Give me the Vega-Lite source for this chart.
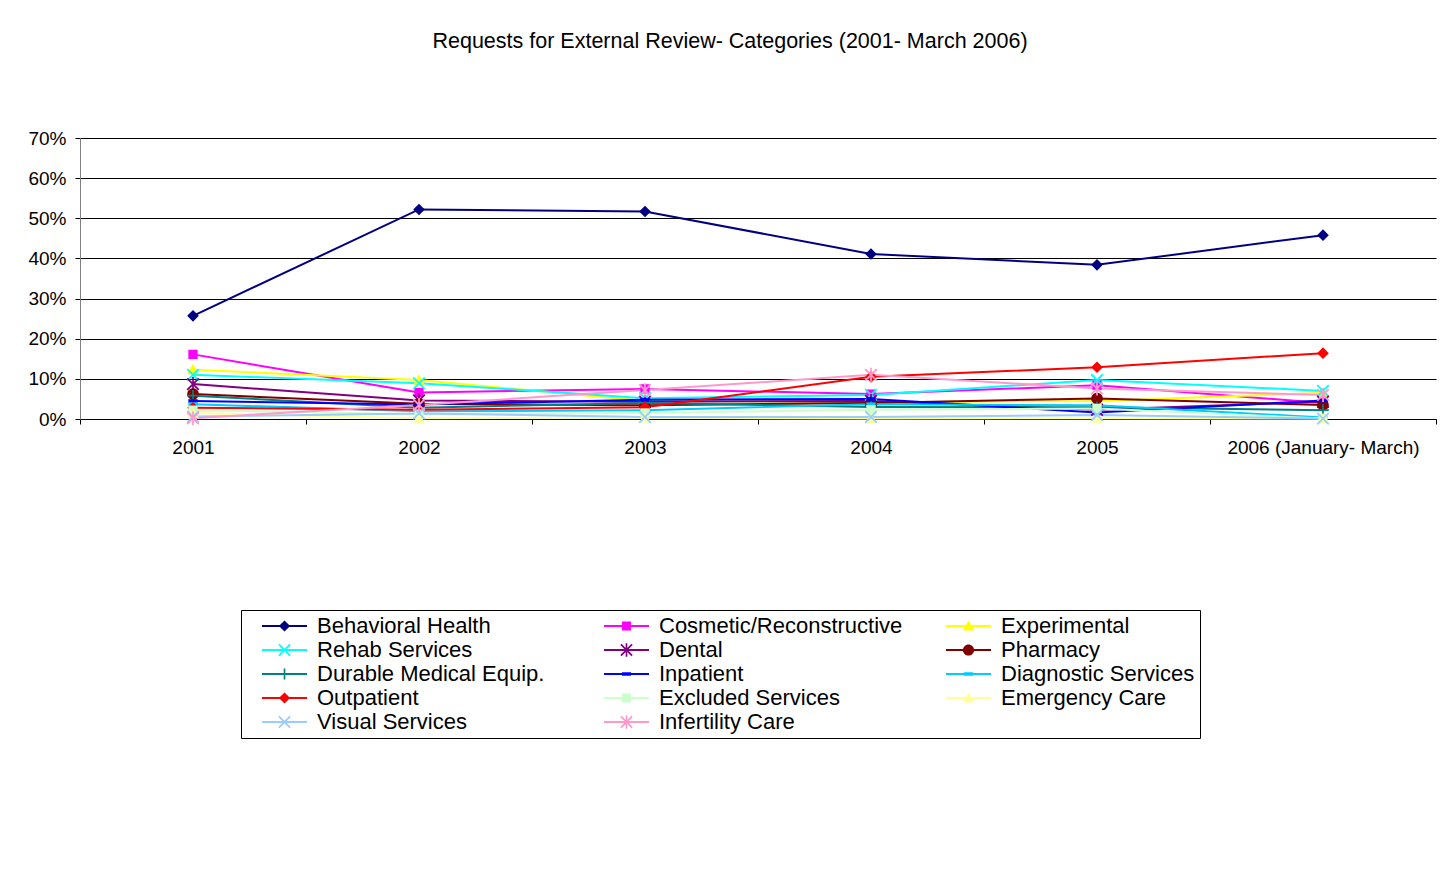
{
  "$schema": "https://vega.github.io/schema/vega-lite/v6.json",
  "width": 1356,
  "height": 281,
  "autosize": {"type": "none"},
  "padding": {"left": 80, "top": 138, "right": 19, "bottom": 452},
  "background": "#ffffff",
  "title": {
    "text": "Requests for External Review- Categories (2001- March 2006)",
    "font": "Liberation Sans",
    "fontSize": 21.5,
    "fontWeight": "normal",
    "color": "#000000",
    "anchor": "middle",
    "frame": "group",
    "dx": -28,
    "offset": 77
  },
  "config": {
    "view": {"stroke": null},
    "font": "Liberation Sans"
  },
  "data": {
    "values": [
      {"year": "2001", "category": "Behavioral Health", "share": 0.257},
      {"year": "2002", "category": "Behavioral Health", "share": 0.522},
      {"year": "2003", "category": "Behavioral Health", "share": 0.517},
      {"year": "2004", "category": "Behavioral Health", "share": 0.411},
      {"year": "2005", "category": "Behavioral Health", "share": 0.384},
      {"year": "2006 (January- March)", "category": "Behavioral Health", "share": 0.458},
      {"year": "2001", "category": "Cosmetic/Reconstructive", "share": 0.161},
      {"year": "2002", "category": "Cosmetic/Reconstructive", "share": 0.066},
      {"year": "2003", "category": "Cosmetic/Reconstructive", "share": 0.075},
      {"year": "2004", "category": "Cosmetic/Reconstructive", "share": 0.062},
      {"year": "2005", "category": "Cosmetic/Reconstructive", "share": 0.084},
      {"year": "2006 (January- March)", "category": "Cosmetic/Reconstructive", "share": 0.040},
      {"year": "2001", "category": "Experimental", "share": 0.123},
      {"year": "2002", "category": "Experimental", "share": 0.097},
      {"year": "2003", "category": "Experimental", "share": 0.045},
      {"year": "2004", "category": "Experimental", "share": 0.042},
      {"year": "2005", "category": "Experimental", "share": 0.045},
      {"year": "2006 (January- March)", "category": "Experimental", "share": 0.065},
      {"year": "2001", "category": "Rehab Services", "share": 0.110},
      {"year": "2002", "category": "Rehab Services", "share": 0.089},
      {"year": "2003", "category": "Rehab Services", "share": 0.052},
      {"year": "2004", "category": "Rehab Services", "share": 0.060},
      {"year": "2005", "category": "Rehab Services", "share": 0.097},
      {"year": "2006 (January- March)", "category": "Rehab Services", "share": 0.070},
      {"year": "2001", "category": "Dental", "share": 0.087},
      {"year": "2002", "category": "Dental", "share": 0.046},
      {"year": "2003", "category": "Dental", "share": 0.043},
      {"year": "2004", "category": "Dental", "share": 0.045},
      {"year": "2005", "category": "Dental", "share": 0.023},
      {"year": "2006 (January- March)", "category": "Dental", "share": 0.043},
      {"year": "2001", "category": "Pharmacy", "share": 0.062},
      {"year": "2002", "category": "Pharmacy", "share": 0.038},
      {"year": "2003", "category": "Pharmacy", "share": 0.034},
      {"year": "2004", "category": "Pharmacy", "share": 0.040},
      {"year": "2005", "category": "Pharmacy", "share": 0.051},
      {"year": "2006 (January- March)", "category": "Pharmacy", "share": 0.035},
      {"year": "2001", "category": "Durable Medical Equip.", "share": 0.058},
      {"year": "2002", "category": "Durable Medical Equip.", "share": 0.028},
      {"year": "2003", "category": "Durable Medical Equip.", "share": 0.040},
      {"year": "2004", "category": "Durable Medical Equip.", "share": 0.030},
      {"year": "2005", "category": "Durable Medical Equip.", "share": 0.029},
      {"year": "2006 (January- March)", "category": "Durable Medical Equip.", "share": 0.022},
      {"year": "2001", "category": "Inpatient", "share": 0.045},
      {"year": "2002", "category": "Inpatient", "share": 0.036},
      {"year": "2003", "category": "Inpatient", "share": 0.048},
      {"year": "2004", "category": "Inpatient", "share": 0.050},
      {"year": "2005", "category": "Inpatient", "share": 0.016},
      {"year": "2006 (January- March)", "category": "Inpatient", "share": 0.046},
      {"year": "2001", "category": "Diagnostic Services", "share": 0.037},
      {"year": "2002", "category": "Diagnostic Services", "share": 0.019},
      {"year": "2003", "category": "Diagnostic Services", "share": 0.022},
      {"year": "2004", "category": "Diagnostic Services", "share": 0.037},
      {"year": "2005", "category": "Diagnostic Services", "share": 0.034},
      {"year": "2006 (January- March)", "category": "Diagnostic Services", "share": 0.004},
      {"year": "2001", "category": "Outpatient", "share": 0.028},
      {"year": "2002", "category": "Outpatient", "share": 0.023},
      {"year": "2003", "category": "Outpatient", "share": 0.029},
      {"year": "2004", "category": "Outpatient", "share": 0.105},
      {"year": "2005", "category": "Outpatient", "share": 0.129},
      {"year": "2006 (January- March)", "category": "Outpatient", "share": 0.164},
      {"year": "2001", "category": "Excluded Services", "share": 0.022},
      {"year": "2002", "category": "Excluded Services", "share": 0.012},
      {"year": "2003", "category": "Excluded Services", "share": 0.015},
      {"year": "2004", "category": "Excluded Services", "share": 0.023},
      {"year": "2005", "category": "Excluded Services", "share": 0.026},
      {"year": "2006 (January- March)", "category": "Excluded Services", "share": 0.001},
      {"year": "2001", "category": "Emergency Care", "share": 0.015},
      {"year": "2002", "category": "Emergency Care", "share": 0.002},
      {"year": "2003", "category": "Emergency Care", "share": 0.003},
      {"year": "2004", "category": "Emergency Care", "share": 0.001},
      {"year": "2005", "category": "Emergency Care", "share": 0.002},
      {"year": "2006 (January- March)", "category": "Emergency Care", "share": 0.001},
      {"year": "2001", "category": "Visual Services", "share": 0.006},
      {"year": "2002", "category": "Visual Services", "share": 0.014},
      {"year": "2003", "category": "Visual Services", "share": 0.005},
      {"year": "2004", "category": "Visual Services", "share": 0.005},
      {"year": "2005", "category": "Visual Services", "share": 0.010},
      {"year": "2006 (January- March)", "category": "Visual Services", "share": 0.001},
      {"year": "2001", "category": "Infertility Care", "share": 0.002},
      {"year": "2002", "category": "Infertility Care", "share": 0.035},
      {"year": "2003", "category": "Infertility Care", "share": 0.072},
      {"year": "2004", "category": "Infertility Care", "share": 0.110},
      {"year": "2005", "category": "Infertility Care", "share": 0.076},
      {"year": "2006 (January- March)", "category": "Infertility Care", "share": 0.060}
    ]
  },
  "encoding": {
    "x": {
      "field": "year",
      "type": "nominal",
      "sort": ["2001", "2002", "2003", "2004", "2005", "2006 (January- March)"],
      "scale": {"type": "band", "paddingInner": 0, "paddingOuter": 0},
      "axis": {
        "title": null,
        "labelAngle": 0,
        "labelFont": "Liberation Sans",
        "labelFontSize": 19,
        "labelColor": "#000000",
        "labelPadding": 14,
        "tickBand": "extent",
        "tickSize": 5,
        "tickColor": "#000000",
        "domainColor": "#000000",
        "grid": false,
        "labelLimit": 400
      }
    },
    "y": {
      "field": "share",
      "type": "quantitative",
      "scale": {"domain": [0, 0.7], "nice": false, "zero": true},
      "axis": {
        "title": null,
        "values": [0, 0.1, 0.2, 0.3, 0.4, 0.5, 0.6, 0.7],
        "format": ".0%",
        "labelFont": "Liberation Sans",
        "labelFontSize": 19,
        "labelColor": "#000000",
        "labelPadding": 9,
        "tickSize": 5,
        "tickColor": "#000000",
        "domainColor": "#808080",
        "grid": true,
        "gridColor": "#000000",
        "gridWidth": 1,
        "gridOpacity": 1
      }
    }
  },
  "layer": [
    {
      "mark": {"type": "line", "strokeWidth": 2, "opacity": 1},
      "encoding": {
        "stroke": {
          "field": "category",
          "type": "nominal",
          "sort": ["Behavioral Health", "Cosmetic/Reconstructive", "Experimental", "Rehab Services", "Dental", "Pharmacy", "Durable Medical Equip.", "Inpatient", "Diagnostic Services", "Outpatient", "Excluded Services", "Emergency Care", "Visual Services", "Infertility Care"],
          "scale": {
            "range": ["#000080", "#FF00FF", "#FFFF00", "#00FFFF", "#800080", "#800000", "#008080", "#0000FF", "#00CCFF", "#FF0000", "#CCFFCC", "#FFFF99", "#99CCFF", "#FF99CC"]
          },
          "legend": {
            "title": null,
            "orient": "none",
            "direction": "horizontal",
            "legendX": 161,
            "legendY": 472,
            "columns": 3,
            "gridAlign": "all",
            "columnPadding": 27,
            "rowPadding": 2,
            "padding": 5,
            "clipHeight": 22,
            "strokeColor": null,
            "fillColor": null,
            "labelFont": "Liberation Sans",
            "labelFontSize": 22,
            "labelColor": "#000000",
            "labelOpacity": 0,
            "labelLimit": 400,
            "symbolType": "stroke",
            "symbolSize": 2025,
            "symbolStrokeWidth": 2,
            "symbolOpacity": 1,
            "symbolOffset": 15,
            "labelOffset": 9
          }
        }
      }
    },
    {
      "mark": {"type": "point", "filled": true, "size": 135, "opacity": 1, "strokeWidth": 0},
      "encoding": {
        "fill": {
          "field": "category",
          "type": "nominal",
          "scale": {
            "domain": ["Behavioral Health", "Cosmetic/Reconstructive", "Experimental", "Rehab Services", "Dental", "Pharmacy", "Durable Medical Equip.", "Inpatient", "Diagnostic Services", "Outpatient", "Excluded Services", "Emergency Care", "Visual Services", "Infertility Care"],
            "range": ["#000080", "#FF00FF", "#FFFF00", "#00FFFF", "#800080", "#800000", "#008080", "#0000FF", "#00CCFF", "#FF0000", "#CCFFCC", "#FFFF99", "#99CCFF", "#FF99CC"]
          },
          "legend": {
            "title": null,
            "orient": "none",
            "direction": "horizontal",
            "legendX": 161,
            "legendY": 472,
            "columns": 3,
            "gridAlign": "all",
            "columnPadding": 27,
            "rowPadding": 2,
            "padding": 5,
            "clipHeight": 22,
            "strokeColor": "#000000",
            "fillColor": null,
            "labelFont": "Liberation Sans",
            "labelFontSize": 22,
            "labelColor": "#000000",
            "labelLimit": 400,
            "symbolSize": 125,
            "symbolOffset": 27.5,
            "labelOffset": 21.5,
            "symbolOpacity": 1,
            "symbolStrokeWidth": 0
          }
        },
        "shape": {
          "field": "category",
          "type": "nominal",
          "scale": {
            "domain": ["Behavioral Health", "Cosmetic/Reconstructive", "Experimental", "Rehab Services", "Dental", "Pharmacy", "Durable Medical Equip.", "Inpatient", "Diagnostic Services", "Outpatient", "Excluded Services", "Emergency Care", "Visual Services", "Infertility Care"],
            "range": [
              "M0,-1L1,0L0,1L-1,0Z",
              "M-0.8,-0.8H0.8V0.8H-0.8Z",
              "M0,-1L1,0.8H-1Z",
              "M-0.89,-1.11L1.11,0.89L0.89,1.11L-1.11,-0.89ZM0.89,-1.11L1.11,-0.89L-0.89,1.11L-1.11,0.89Z",
              "M-0.89,-1.11L1.11,0.89L0.89,1.11L-1.11,-0.89ZM0.89,-1.11L1.11,-0.89L-0.89,1.11L-1.11,0.89ZM-0.15,-1.2H0.15V1.2H-0.15Z",
              "M1,0A1,1,0,1,1,-1,0A1,1,0,1,1,1,0Z",
              "M-1,-0.15H1V0.15H-1ZM-0.15,-1H0.15V1H-0.15Z",
              "M-0.8,-0.3H0.8V0.3H-0.8Z",
              "M-0.8,-0.3H0.8V0.3H-0.8Z",
              "M0,-1L1,0L0,1L-1,0Z",
              "M-0.8,-0.8H0.8V0.8H-0.8Z",
              "M0,-1L1,0.8H-1Z",
              "M-0.89,-1.11L1.11,0.89L0.89,1.11L-1.11,-0.89ZM0.89,-1.11L1.11,-0.89L-0.89,1.11L-1.11,0.89Z",
              "M-0.89,-1.11L1.11,0.89L0.89,1.11L-1.11,-0.89ZM0.89,-1.11L1.11,-0.89L-0.89,1.11L-1.11,0.89ZM-0.15,-1.2H0.15V1.2H-0.15Z"
            ]
          }
        }
      }
    }
  ]
}
